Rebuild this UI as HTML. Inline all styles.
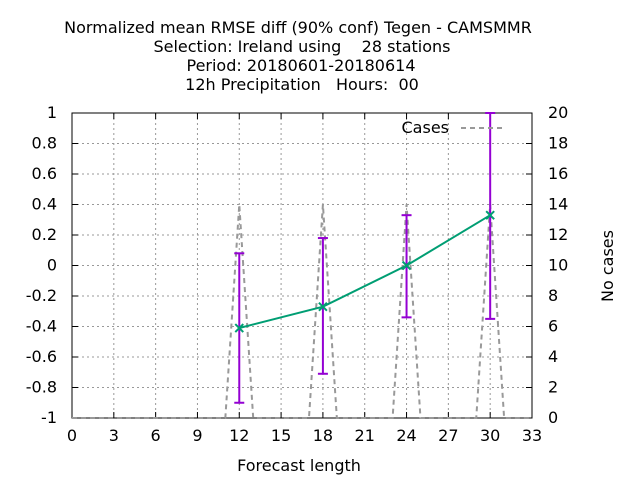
<!DOCTYPE html>
<html><head><meta charset="utf-8"><style>
body{margin:0;background:#fff}
svg text{font-family:"DejaVu Sans","Liberation Sans",sans-serif;font-size:16px;fill:#000;white-space:pre}
</style></head><body>
<svg id="chart" width="640" height="480">
<g id="titles">
<text x="298" y="33" text-anchor="middle">Normalized mean RMSE diff (90% conf) Tegen - CAMSMMR</text>
<text x="302" y="52" text-anchor="middle">Selection: Ireland using    28 stations</text>
<text x="301" y="71" text-anchor="middle">Period: 20180601-20180614</text>
<text x="302" y="90" text-anchor="middle">12h Precipitation   Hours:  00</text>
</g>
<g id="grid"></g><g id="axes"></g><g id="series"></g>
<text x="299" y="471" text-anchor="middle">Forecast length</text>
<text transform="translate(613,266) rotate(-90)" text-anchor="middle">No cases</text>
<g><text x="449" y="133" text-anchor="end">Cases</text>
<line x1="461" y1="128" x2="505" y2="128" stroke="#999" stroke-width="2" stroke-dasharray="5,4"/></g>
</svg>
<script>
const xTicks=[0,3,6,9,12,15,18,21,24,27,30,33];
const yTicks=[-1,-0.8,-0.6,-0.4,-0.2,0,0.2,0.4,0.6,0.8,1];
const y2Ticks=[0,2,4,6,8,10,12,14,16,18,20];
const leads=[12,18,24,30];
const means=[-0.41,-0.27,0.0,0.33];
const lows=[-0.90,-0.71,-0.34,-0.35];
const highs=[0.08,0.18,0.33,1.0];
const caseHours=[0,1,2,3,4,5,6,7,8,9,10,11,12,13,14,15,16,17,18,19,20,21,22,23,24,25,26,27,28,29,30,31,32,33];
const caseCounts=[0,0,0,0,0,0,0,0,0,0,0,0,14,0,0,0,0,0,14,0,0,0,0,0,14,0,0,0,0,0,14,0,0,0];
const L=72,R=532,T=113,B=418;
const X=v=>L+(v-0)/33*(R-L);
const Y=v=>B-(v+1)/2*(B-T);
const Y2=v=>B-v/20*(B-T);
const NS="http://www.w3.org/2000/svg";
function mk(p,tag,a){const e=document.createElementNS(NS,tag);for(const k in a)e.setAttribute(k,a[k]);p.appendChild(e);return e;}
const g=document.getElementById('grid'),ax=document.getElementById('axes'),s=document.getElementById('series');
xTicks.forEach(t=>{const x=X(t);
 if(t>0&&t<33){const l=mk(g,'line',{x1:x,y1:T,x2:x,y2:B,stroke:'#999','stroke-dasharray':'2,3'});
 
 }
 mk(ax,'line',{x1:x,y1:B,x2:x,y2:B-6,stroke:'#000'});mk(ax,'line',{x1:x,y1:T,x2:x,y2:T+6,stroke:'#000'});
 const tx=mk(ax,'text',{x:x,y:B+23,'text-anchor':'middle'});tx.textContent=t;
 
 });
yTicks.forEach(t=>{const y=Y(t);
 if(t>-1&&t<1){const l=mk(g,'line',{x1:L,y1:y,x2:R,y2:y,stroke:'#999','stroke-dasharray':'2,3'});
 
 }
 mk(ax,'line',{x1:L,y1:y,x2:L+6,y2:y,stroke:'#000'});
 const tx=mk(ax,'text',{x:L-15,y:y+5,'text-anchor':'end'});tx.textContent=String(t);
 
 });
y2Ticks.forEach(t=>{const y=Y2(t);
 mk(ax,'line',{x1:R,y1:y,x2:R-6,y2:y,stroke:'#000'});
 const tx=mk(ax,'text',{x:R+16,y:y+5,'text-anchor':'start'});tx.textContent=t;
 
 });
const fr=mk(ax,'rect',{x:L,y:T,width:R-L,height:B-T,fill:'none',stroke:'#000'});


let d='';caseHours.forEach((h,i)=>{d+=(i?'L':'M')+X(h)+','+Y2(caseCounts[i]);});
const cl=mk(s,'path',{d:d,fill:'none',stroke:'#999','stroke-width':2,'stroke-dasharray':'5,4'});


let d2='';leads.forEach((h,i)=>{d2+=(i?'L':'M')+X(h)+','+Y(means[i]);});
const ml=mk(s,'path',{d:d2,fill:'none',stroke:'#009e73','stroke-width':2});


leads.forEach((h,i)=>{const x=X(h),y1=Y(lows[i]),y2=Y(highs[i]);
 const eb=mk(s,'g',{stroke:'#9400d3','stroke-width':2});
 
 
 mk(eb,'line',{x1:x,y1:y1,x2:x,y2:y2});mk(eb,'line',{x1:x-5,y1:y1,x2:x+5,y2:y1});mk(eb,'line',{x1:x-5,y1:y2,x2:x+5,y2:y2});
 const y=Y(means[i]);
 const m=mk(s,'g',{stroke:'#009e73','stroke-width':2});
 
 
 mk(m,'line',{x1:x-4,y1:y-4,x2:x+4,y2:y+4});mk(m,'line',{x1:x-4,y1:y+4,x2:x+4,y2:y-4});
});
</script>
</body></html>
